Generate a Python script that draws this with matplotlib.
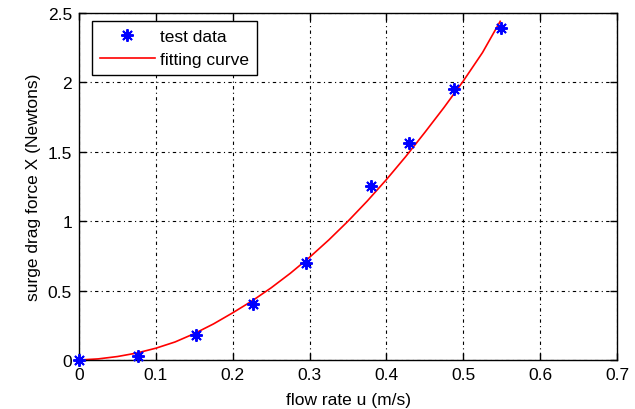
import matplotlib
matplotlib.use("Agg")
import matplotlib.pyplot as plt

# test data
flow_rate = [0.0, 0.077, 0.152, 0.227, 0.295, 0.380, 0.429, 0.488, 0.549]
drag_force = [0.0, 0.03, 0.18, 0.40, 0.70, 1.25, 1.56, 1.95, 2.39]

# fitting curve
fit_u = [0.0, 0.025, 0.05, 0.075, 0.1, 0.125, 0.15, 0.175, 0.2, 0.225, 0.25, 0.275,
         0.3, 0.325, 0.35, 0.375, 0.4, 0.425, 0.45, 0.475, 0.5, 0.525, 0.548]
fit_x = [0.0, 0.008, 0.025, 0.05, 0.085, 0.13, 0.19, 0.26, 0.34, 0.425, 0.52, 0.625,
         0.74, 0.865, 1.0, 1.145, 1.30, 1.465, 1.64, 1.82, 2.01, 2.215, 2.44]

x_ticks = [0, 0.1, 0.2, 0.3, 0.4, 0.5, 0.6, 0.7]
y_ticks = [0, 0.5, 1, 1.5, 2, 2.5]
x_tick_labels = ['0', '0.1', '0.2', '0.3', '0.4', '0.5', '0.6', '0.7']
y_tick_labels = ['0', '0.5', '1', '1.5', '2', '2.5']

plt.rcParams['font.family'] = ['Liberation Sans', 'DejaVu Sans']

fig = plt.figure(figsize=(6.35, 4.1), dpi=100)
ax = fig.add_axes([0.1244, 0.1195, 0.8473, 0.8464])

ax.plot(flow_rate, drag_force, linestyle='none', marker=(8, 2, 0), markersize=9,
        markeredgewidth=1.4, color='#0000ff', label='test data', zorder=3,
        clip_on=False)
ax.plot(fit_u, fit_x, color='#ff0000', linewidth=1.2, label='fitting curve', zorder=2)

ax.set_xlim(0, 0.7)
ax.set_ylim(0, 2.5)
ax.set_xticks(x_ticks)
ax.set_yticks(y_ticks)
ax.set_xticklabels(x_tick_labels)
ax.set_yticklabels(y_tick_labels)
ax.tick_params(direction='in', top=True, right=True, length=5, width=1,
               labelsize=12.5, pad=5)
ax.grid(True, linestyle=(0, (1, 3, 3, 3)), color='black', linewidth=0.8)
for s in ax.spines.values():
    s.set_linewidth(1.0)

ax.set_xlabel('flow rate u (m/s)', fontsize=12.5, labelpad=7)
ax.set_ylabel('surge drag force X (Newtons)', fontsize=12.5, labelpad=5)

leg = ax.legend(loc='upper left', bbox_to_anchor=(0.024, 0.978), fontsize=12.5,
                fancybox=False, framealpha=1, edgecolor='black',
                borderpad=0.45, handlelength=3.2, handletextpad=0.3,
                labelspacing=0.5, borderaxespad=0)
leg.get_frame().set_linewidth(1.0)

fig.savefig('out.png', dpi=100)
